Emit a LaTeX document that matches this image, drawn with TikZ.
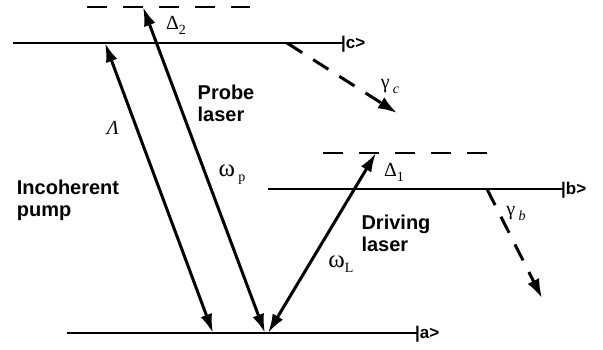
\documentclass[tikz,border=0pt]{standalone}
\usepackage{fontspec}
\usepackage{tikz}
\usetikzlibrary{arrows.meta, calc}
\newfontfamily\labelsans{Liberation Sans}
\newfontfamily\greekserif{Liberation Serif}
\newcommand{\lblfont}{\labelsans\bfseries\fontsize{20}{22}\selectfont}
\newcommand{\ketfont}{\labelsans\bfseries\fontsize{17}{19}\selectfont}
\newcommand{\symfont}{\greekserif\fontsize{20}{22}\selectfont}
\newcommand{\lowsub}[1]{\raisebox{-5pt}{\fontsize{14}{15}\selectfont #1}}
\newcommand{\bigw}{{\fontsize{25}{26}\selectfont ω}}

\begin{document}
\begin{tikzpicture}[x=1pt, y=-1pt,
    level/.style={line width=2.6pt},
    virt/.style={line width=2.6pt, dash pattern=on 20pt off 16pt},
    trans/.style={line width=3pt, {Latex[length=19pt,width=12pt]}-{Latex[length=19pt,width=12pt]}},
    decay/.style={line width=3pt, dash pattern=on 18pt off 13pt, -{Latex[length=19pt,width=13pt]}},
    ket/.style={font=\ketfont, anchor=base west, inner sep=0pt},
    lbl/.style={font=\lblfont, align=left, inner sep=0pt},
    sym/.style={font=\symfont, inner sep=0pt},
  ]
    \useasboundingbox (0,0) rectangle (603,349);

    % energy levels
    \coordinate (c1) at (13,43);
    \coordinate (c2) at (343,43);
    \coordinate (b1) at (268,189);
    \coordinate (b2) at (563,189);
    \coordinate (a1) at (67,333);
    \coordinate (a2) at (417,333);
    \draw[level] (c1) -- (c2);
    \draw[level] (b1) -- (b2);
    \draw[level] (a1) -- (a2);
    \node[ket] (kc) at ($(c2)+(-2,5)$) {|c>};
    \node[ket] (kb) at ($(b2)+(-2,5)$) {|b>};
    \node[ket] (ka) at ($(a2)+(-2,5)$) {|a>};

    % virtual levels
    \coordinate (vc1) at (87,7);
    \coordinate (vc2) at (250,7);
    \coordinate (vb1) at (323,153);
    \coordinate (vb2) at (487,153);
    \draw[virt] (vc1) -- (vc2);
    \draw[virt] (vb1) -- (vb2);

    % transitions
    \coordinate (pumpT) at (105,43);
    \coordinate (pumpB) at (213,333);
    \coordinate (probeT) at (143,7);
    \coordinate (probeB) at (265,333);
    \coordinate (driveB) at (268,333);
    \coordinate (driveT) at (376,153);
    \draw[trans] (pumpT) -- (pumpB);
    \draw[trans] (probeT) -- (probeB);
    \draw[trans] (driveB) -- (driveT);

    % decays
    \coordinate (gc1) at (287,43);
    \coordinate (gc2) at (397,113);
    \coordinate (gb1) at (487,189);
    \coordinate (gb2) at (542,298);
    \draw[decay] (gc1) -- (gc2);
    \draw[decay] (gb1) -- (gb2);

    % labels
    \node[sym] (d2) at (176,25) {Δ\lowsub{2}};
    \node[sym] (d1) at (394,172) {Δ\lowsub{1}};
    \node[sym] (lam) at (113,128) {\itshape Λ};
    \node[sym] (wp) at (232,175) {\bigw\,\lowsub{p}};
    \node[sym] (wl) at (341,264) {\bigw\lowsub{L}};
    \node[sym] (gmc) at (390,86) {γ\,\lowsub{\itshape c}};
    \node[sym] (gmb) at (516,213) {γ\,\lowsub{\itshape b}};
    \node[lbl] (probe) at (226,103) {Probe\\laser};
    \node[lbl] (pump) at (68,200) {Incoherent\\pump};
    \node[lbl] (drive) at (396,233) {Driving\\laser};
\end{tikzpicture}
\end{document}
